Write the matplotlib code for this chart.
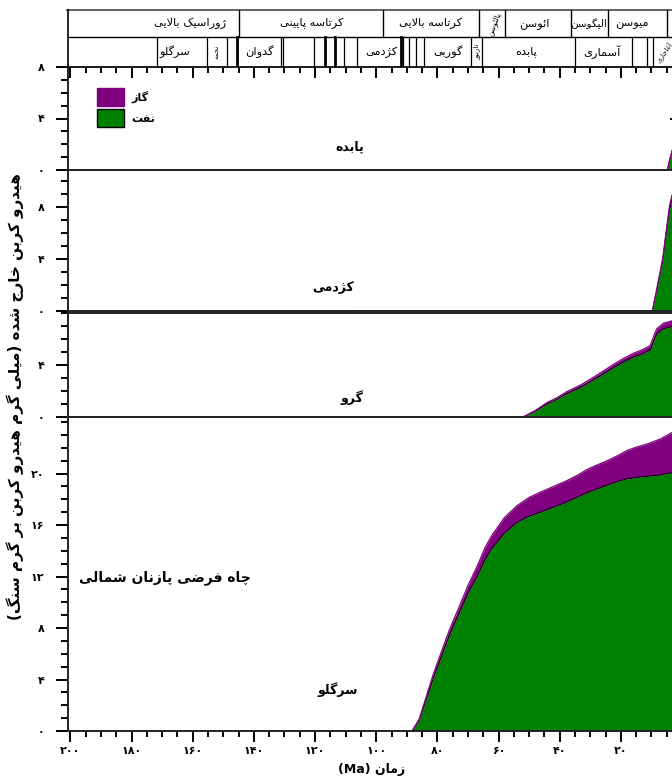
import numpy as np
import matplotlib
matplotlib.use('Agg')
import matplotlib.pyplot as plt
from matplotlib.ticker import FixedLocator, FuncFormatter
from matplotlib.patches import Patch

plt.rcParams['font.family'] = ['DejaVu Sans']

# ---- persian text helpers (matplotlib has no arabic shaping / bidi) ----
FORMS = {
    'ا': (0xFE8D, 0xFE8E, None, None), 'آ': (0xFE81, 0xFE82, None, None),
    'ب': (0xFE8F, 0xFE90, 0xFE91, 0xFE92), 'پ': (0xFB56, 0xFB57, 0xFB58, 0xFB59),
    'ت': (0xFE95, 0xFE96, 0xFE97, 0xFE98), 'ث': (0xFE99, 0xFE9A, 0xFE9B, 0xFE9C),
    'ج': (0xFE9D, 0xFE9E, 0xFE9F, 0xFEA0), 'چ': (0xFB7A, 0xFB7B, 0xFB7C, 0xFB7D),
    'ح': (0xFEA1, 0xFEA2, 0xFEA3, 0xFEA4), 'خ': (0xFEA5, 0xFEA6, 0xFEA7, 0xFEA8),
    'د': (0xFEA9, 0xFEAA, None, None), 'ذ': (0xFEAB, 0xFEAC, None, None),
    'ر': (0xFEAD, 0xFEAE, None, None), 'ز': (0xFEAF, 0xFEB0, None, None),
    'ژ': (0xFB8A, 0xFB8B, None, None), 'س': (0xFEB1, 0xFEB2, 0xFEB3, 0xFEB4),
    'ش': (0xFEB5, 0xFEB6, 0xFEB7, 0xFEB8), 'ص': (0xFEB9, 0xFEBA, 0xFEBB, 0xFEBC),
    'ض': (0xFEBD, 0xFEBE, 0xFEBF, 0xFEC0), 'ط': (0xFEC1, 0xFEC2, 0xFEC3, 0xFEC4),
    'ظ': (0xFEC5, 0xFEC6, 0xFEC7, 0xFEC8), 'ع': (0xFEC9, 0xFECA, 0xFECB, 0xFECC),
    'غ': (0xFECD, 0xFECE, 0xFECF, 0xFED0), 'ف': (0xFED1, 0xFED2, 0xFED3, 0xFED4),
    'ق': (0xFED5, 0xFED6, 0xFED7, 0xFED8), 'ک': (0xFB8E, 0xFB8F, 0xFB90, 0xFB91),
    'گ': (0xFB92, 0xFB93, 0xFB94, 0xFB95), 'ل': (0xFEDD, 0xFEDE, 0xFEDF, 0xFEE0),
    'م': (0xFEE1, 0xFEE2, 0xFEE3, 0xFEE4), 'ن': (0xFEE5, 0xFEE6, 0xFEE7, 0xFEE8),
    'و': (0xFEED, 0xFEEE, None, None), 'ه': (0xFEE9, 0xFEEA, 0xFEEB, 0xFEEC),
    'ی': (0xFBFC, 0xFBFD, 0xFBFE, 0xFBFF), 'ئ': (0xFE89, 0xFE8A, 0xFE8B, 0xFE8C),
}
LAMALEF = {'ا': (0xFEFB, 0xFEFC), 'آ': (0xFEF5, 0xFEF6)}


def shape(s):
    out = []
    i = 0
    n = len(s)
    while i < n:
        c = s[i]
        if c not in FORMS:
            out.append(c)
            i += 1
            continue
        prev = s[i - 1] if i > 0 else None
        cp = prev in FORMS and FORMS[prev][2] is not None
        if c == 'ل' and i + 1 < n and s[i + 1] in LAMALEF:
            lig = LAMALEF[s[i + 1]]
            out.append(chr(lig[1] if cp else lig[0]))
            i += 2
            continue
        nxt = s[i + 1] if i + 1 < n else None
        cn = FORMS[c][2] is not None and nxt in FORMS
        iso, fin, ini, med = FORMS[c]
        if cp and cn:
            g = med
        elif cp:
            g = fin
        elif cn:
            g = ini
        else:
            g = iso
        out.append(chr(g))
        i += 1
    return ''.join(out)


def fa(s):
    v = shape(s)[::-1]
    return v.translate(str.maketrans('()', ')('))


def fa_num(v):
    return f'{v:g}'.translate(str.maketrans('0123456789', '۰۱۲۳۴۵۶۷۸۹'))


# ---- data (Ma, mg HC / g rock) ----
pabdeh_age = [58, 4.8, 4.0, 3.2, 2.0]
pabdeh_oil = [0, 0, 0.8, 1.5, 1.9]
pabdeh_gas = [0, 0, 0.03, 0.05, 0.06]

kazhdumi_age = [110, 9.7, 8.0, 6.3, 5.2, 4.1, 3.3, 2.0]
kazhdumi_oil = [0, 0, 1.9, 3.9, 5.9, 7.8, 8.6, 9.0]
kazhdumi_gas = [0, 0, 0.1, 0.15, 0.2, 0.25, 0.3, 0.32]

garau_age = [140, 52, 48, 44.2, 41, 37.7, 33, 29, 25.5, 22.4, 19, 15.9, 13, 10.4, 9, 8.2, 6, 3.2, 2]
garau_oil = [0, 0, 0.45, 1.0, 1.35, 1.8, 2.3, 2.85, 3.35, 3.8, 4.25, 4.6, 4.85, 5.15, 6.0, 6.4, 6.8, 6.95, 6.95]
garau_gas = [0, 0, 0.05, 0.1, 0.12, 0.15, 0.18, 0.2, 0.22, 0.25, 0.27, 0.3, 0.32, 0.33, 0.38, 0.4, 0.42, 0.45, 0.45]

sargelu_age = [163, 88.3, 86, 84, 81.5, 79, 76, 72.6, 70, 67, 64.5, 62.2, 58, 54, 50, 46.4, 42, 37.7,
               34, 31.2, 28, 24.5, 21, 18, 15, 11.4, 7, 3.2, 2]
sargelu_oil = [0, 0, 0.8, 2.2, 4.0, 5.6, 7.5, 9.3, 10.7, 12.0, 13.3, 14.2, 15.4, 16.2, 16.7, 17.0, 17.4, 17.8,
               18.2, 18.5, 18.8, 19.1, 19.4, 19.6, 19.7, 19.8, 19.9, 20.1, 20.1]
sargelu_gas = [0, 0, 0.1, 0.2, 0.3, 0.35, 0.4, 0.5, 0.6, 0.8, 0.9, 1.0, 1.2, 1.3, 1.45, 1.55, 1.6, 1.65,
               1.7, 1.8, 1.85, 1.9, 2.0, 2.2, 2.35, 2.5, 2.8, 3.1, 3.2]

# stratigraphy header (boundaries in Ma)
period_names = ['ژوراسیک بالایی', 'کرتاسه پایینی', 'کرتاسه بالایی', 'پالئوسن', 'ائوسن', 'الیگوسن', 'میوسن']
period_bounds = [201, 144.9, 97.8, 66.4, 57.9, 36.3, 24.1, 4.8]
per_pos = [161.0, 121.0, 82.3, 61.5, 48.4, 30.5, 16.3]
fm_lines = [171.6, 155.5, 148.9, 145.6, 131.1, 130.6, 120.2, 116.7, 113.6, 110.4, 106.4,
            92.0, 91.3, 89.3, 87.1, 84.3, 69.0, 65.4, 35.0, 16.4, 11.5, 9.5]
fm_thick = [145.6, 116.7, 113.6, 92.0]
fm_names = ['سرگلو', 'نجمه', 'گدوان', 'کژدمی', 'گوربی', 'تاربور', 'پابده', 'آسماری', 'آغاجاری']
fm_pos = [166.0, 152.2, 138.3, 98.3, 76.6, 67.2, 51.0, 26.3, 6.0]
fm_rot = [0, 90, 0, 0, 0, 90, 0, 0, 55]

OIL = '#008000'
GAS = '#800080'

W, H = 672, 778
fig = plt.figure(figsize=(W / 100, H / 100), dpi=100)
x0, x1 = 68, 682
XL = (200.8, 0)


def frac(top, bot):
    return [x0 / W, 1 - bot / H, (x1 - x0) / W, (bot - top) / H]


panels = [
    dict(box=(67, 170), ylim=8.0, major=[0, 4, 8], age=pabdeh_age, oil=pabdeh_oil, gas=pabdeh_gas,
         name='پابده', lab=(108.6, 1.8)),
    dict(box=(170, 311), ylim=10.85, major=[0, 4, 8], age=kazhdumi_age, oil=kazhdumi_oil, gas=kazhdumi_gas,
         name='کژدمی', lab=(114, 1.8)),
    dict(box=(313, 417), ylim=8.0, major=[0, 4], age=garau_age, oil=garau_oil, gas=garau_gas,
         name='گرو', lab=(108, 1.5)),
    dict(box=(417, 731), ylim=24.4, major=[0, 4, 8, 12, 16, 20], age=sargelu_age, oil=sargelu_oil,
         gas=sargelu_gas, name='سرگلو', lab=(112.6, 3.2)),
]

axes = []
for k, p in enumerate(panels):
    ax = fig.add_axes(frac(*p['box']))
    axes.append(ax)
    age = np.array(p['age'])
    oil = np.array(p['oil'])
    tot = oil + np.array(p['gas'])
    ax.fill_between(age, 0, oil, color=OIL, lw=0)
    ax.fill_between(age, oil, tot, color=GAS, lw=0)
    ax.plot(age, oil, color='black', lw=0.7)
    ax.plot(age, tot, color=GAS, lw=0.9)
    ax.set_xlim(*XL)
    ax.set_ylim(0, p['ylim'])
    minor = [v for v in range(0, int(p['ylim']) + 1) if v not in p['major']]
    ax.yaxis.set_major_locator(FixedLocator(p['major']))
    ax.yaxis.set_minor_locator(FixedLocator(minor))
    ax.yaxis.set_major_formatter(FuncFormatter(lambda v, pos: fa_num(v)))
    ax.tick_params(axis='y', which='both', left=True, right=False, direction='out', width=1.4,
                   labelsize=8, pad=8)
    ax.tick_params(axis='y', which='major', length=9)
    ax.tick_params(axis='y', which='minor', length=5)
    # inward ticks on the right edge
    ry = ax.secondary_yaxis('right')
    ry.yaxis.set_major_locator(FixedLocator(p['major']))
    ry.yaxis.set_minor_locator(FixedLocator(minor))
    ry.tick_params(axis='y', which='both', direction='in', width=1.4, labelright=False)
    ry.tick_params(axis='y', which='major', length=9)
    ry.tick_params(axis='y', which='minor', length=5)
    ax.xaxis.set_major_locator(FixedLocator(range(20, 201, 20)))
    ax.xaxis.set_minor_locator(FixedLocator(range(5, 201, 5)))
    ax.xaxis.set_major_formatter(FuncFormatter(lambda v, pos: fa_num(v)))
    ax.tick_params(axis='x', which='both', direction='out', width=1.4, labelsize=8, pad=3)
    ax.tick_params(axis='x', which='major', length=8)
    ax.tick_params(axis='x', which='minor', length=4)
    for t in ax.get_xticklabels() + ax.get_yticklabels():
        t.set_fontweight('bold')
    if k < 3:
        ax.tick_params(axis='x', labelbottom=False)
    for s in ax.spines.values():
        s.set_linewidth(1.4)
        s.set_color('#222222')
    ax.text(p['lab'][0], p['lab'][1], fa(p['name']), ha='center', va='center', fontsize=9, fontweight='bold')

# top ticks of first panel
sec = axes[0].secondary_xaxis('top')
sec.xaxis.set_major_locator(FixedLocator(range(20, 201, 20)))
sec.xaxis.set_minor_locator(FixedLocator(range(5, 201, 5)))
sec.tick_params(axis='x', which='both', direction='in', width=1.4, labeltop=False)
sec.tick_params(axis='x', which='major', length=8)
sec.tick_params(axis='x', which='minor', length=4)
sec.spines['top'].set_linewidth(1.4)

axes[3].text(169, 11.9, fa('چاه فرضی پازنان شمالی'), ha='center', va='center', fontsize=10, fontweight='bold')

leg = axes[0].legend(handles=[Patch(facecolor=GAS, edgecolor=GAS), Patch(facecolor=OIL, edgecolor='black')],
                     labels=[fa('گاز'), fa('نفت')], loc='upper left', bbox_to_anchor=(0.035, 0.87),
                     frameon=False, handlelength=2.4, handleheight=2.1, handletextpad=0.7,
                     labelspacing=0.3, borderpad=0.2, prop={'size': 8, 'weight': 'bold'})

# stratigraphic header
hdr = fig.add_axes([x0 / W, 1 - 67 / H, (x1 - x0) / W, 57 / H])
hdr.set_xlim(*XL)
hdr.set_ylim(0, 1)
hdr.axis('off')
mid = 30 / 57
hdr.plot([201, 0], [1, 1], color='#555555', lw=1.3, clip_on=False)
hdr.plot([201, 0], [mid, mid], color='black', lw=1.0)
hdr.plot([200.8, 200.8], [0, 1], color='black', lw=1.2, clip_on=False)
for b in period_bounds[1:]:
    hdr.plot([b, b], [mid, 1], color='black', lw=1.0)
for b in fm_lines:
    hdr.plot([b, b], [0, mid], color='black', lw=2.0 if b in fm_thick else 0.9)

for name, pos in zip(period_names, per_pos):
    if name == 'پالئوسن':
        hdr.text(pos, (mid + 1) / 2, fa(name), ha='center', va='center', fontsize=5.5, rotation=70)
    else:
        fs = 7.5 if name == 'الیگوسن' else 8.2
        hdr.text(pos, (mid + 1) / 2, fa(name), ha='center', va='center', fontsize=fs)
for name, pos, rot in zip(fm_names, fm_pos, fm_rot):
    fs = 8.2 if rot == 0 else 5
    hdr.text(pos, mid / 2, fa(name), ha='center', va='center', fontsize=fs, rotation=rot)

fig.text(15 / W, 0.49, fa('هیدرو کربن خارج شده (میلی گرم هیدرو کربن بر گرم سنگ)'),
         rotation=90, ha='center', va='center', fontsize=11, fontweight='bold')
fig.text(372 / W, 1 - 769 / H, '(Ma) ' + fa('زمان'), ha='center', va='center', fontsize=9, fontweight='bold')

fig.savefig('out.png', dpi=100)
